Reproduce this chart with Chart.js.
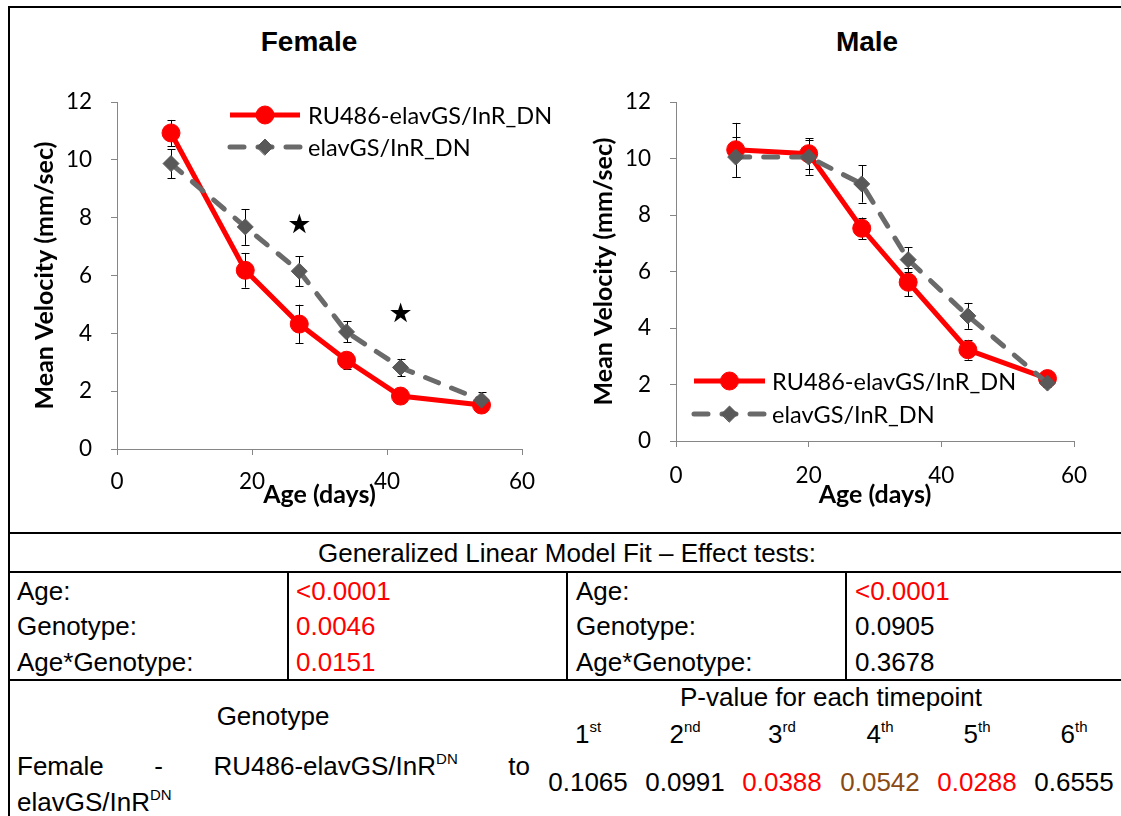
<!DOCTYPE html>
<html>
<head>
<meta charset="utf-8">
<script src="https://cdn.jsdelivr.net/npm/chart.js@4.4.0/dist/chart.umd.min.js"></script>
<style>
html,body{margin:0;padding:0;background:#fff;overflow:hidden;}
body{width:1121px;height:816px;position:relative;overflow:hidden;font-family:"Liberation Sans",Arial,sans-serif;color:#000;}
#frame{position:absolute;left:8px;top:6px;width:1113px;height:810px;border:2px solid #000;border-right:none;border-bottom:none;box-sizing:border-box;}
.hl{position:absolute;height:2px;background:#000;left:8px;width:1113px;}
.vl{position:absolute;width:2px;background:#000;}
.t{position:absolute;font-size:26px;white-space:nowrap;line-height:1;}
.c{transform:translate(-50%,-50%);}
.l{transform:translateY(-50%);}
.ctitle{position:absolute;font-family:"Liberation Sans",Arial,sans-serif;font-weight:bold;font-size:28px;line-height:1;transform:translate(-50%,-50%);}
canvas{position:absolute;}
sup.s{font-size:15px;vertical-align:0;position:relative;top:-11px;}
#justify{position:absolute;left:17px;top:750px;width:513px;font-size:26px;line-height:33px;text-align:justify;}
</style>
</head>
<body>
<div id="frame"></div>
<div class="ctitle" style="left:309px;top:42px;">Female</div>
<div class="ctitle" style="left:867px;top:42px;">Male</div>
<canvas id="female" width="556" height="523" style="left:10px;top:9px;"></canvas>
<canvas id="male" width="554" height="523" style="left:567px;top:9px;"></canvas>
<div id="table"></div>
<script>
// ---------------- data ----------------
const seriesLabels = ['RU486-elavGS/InR_DN', 'elavGS/InR_DN'];

const femaleDays = [8, 19, 27, 34, 42, 54];
const femaleRU = [10.93, 6.18, 4.32, 3.07, 1.83, 1.52];
const femaleRUErr = [0.45, 0.6, 0.67, 0.3, 0.1, 0.1];
const femaleCtl = [9.87, 7.68, 6.15, 4.05, 2.82, 1.69];
const femaleCtlErr = [0.5, 0.62, 0.52, 0.36, 0.3, 0.27];
const femaleStarDays = [27, 42];
const femaleStarY = [7.72, 4.63];

const maleDays = [9, 20, 28, 35, 44, 56];
const maleRU = [10.31, 10.17, 7.53, 5.62, 3.23, 2.21];
const maleRUErr = [0.95, 0.55, 0.38, 0.5, 0.35, 0.1];
const maleCtl = [10.05, 10.05, 9.1, 6.42, 4.43, 2.05];
const maleCtlErr = [0.7, 0.62, 0.66, 0.44, 0.46, 0.15];

const xMin = 0, xMax = 60, xStep = 20;
const yMin = 0, yMax = 12, yStep = 2;

const tableTitle = 'Generalized Linear Model Fit \u2013 Effect tests:';
const effectTerms = ['Age:', 'Genotype:', 'Age*Genotype:'];
const femaleEffectP = ['<0.0001', '0.0046', '0.0151'];
const maleEffectP = ['<0.0001', '0.0905', '0.3678'];

const timepointHeader = 'P-value for each timepoint';
const timepointNums = ['1', '2', '3', '4', '5', '6'];
const timepointSuffix = ['st', 'nd', 'rd', 'th', 'th', 'th'];
const timepointP = ['0.1065', '0.0991', '0.0388', '0.0542', '0.0288', '0.6555'];

// ---------------- helpers ----------------
function pts(xs, ys) { return xs.map((x, i) => ({x: x, y: ys[i]})); }
function pColor(p) {
  const v = parseFloat(String(p).replace('<', ''));
  if (v < 0.05) return '#ff0000';
  if (v < 0.06) return '#8a4a14';
  return '#000000';
}

const errorBarPlugin = {
  id: 'errorBars',
  beforeDatasetsDraw(chart) {
    const ctx = chart.ctx, xs = chart.scales.x, ys = chart.scales.y;
    ctx.save();
    ctx.strokeStyle = '#000';
    ctx.lineWidth = 1;
    chart.data.datasets.forEach(ds => {
      if (!ds.errors) return;
      ds.data.forEach((p, i) => {
        const e = ds.errors[i];
        const px = Math.round(xs.getPixelForValue(p.x)) + 0.5;
        const top = ys.getPixelForValue(p.y + e), bot = ys.getPixelForValue(p.y - e);
        ctx.beginPath();
        ctx.moveTo(px, top); ctx.lineTo(px, bot);
        ctx.moveTo(px - 4, Math.round(top) + 0.5); ctx.lineTo(px + 4, Math.round(top) + 0.5);
        ctx.moveTo(px - 4, Math.round(bot) + 0.5); ctx.lineTo(px + 4, Math.round(bot) + 0.5);
        ctx.stroke();
      });
    });
    ctx.restore();
  }
};

const starPlugin = {
  id: 'stars',
  afterDatasetsDraw(chart, args, opts) {
    if (!opts.days || !opts.days.length) return;
    const ctx = chart.ctx, xs = chart.scales.x, ys = chart.scales.y;
    ctx.save();
    ctx.fillStyle = '#000';
    ctx.font = '27px "DejaVu Sans"';
    ctx.textAlign = 'center';
    ctx.textBaseline = 'middle';
    opts.days.forEach((d, i) => {
      ctx.fillText('\u2605', xs.getPixelForValue(d), ys.getPixelForValue(opts.values[i]));
    });
    ctx.restore();
  }
};

const sampleLegendPlugin = {
  id: 'sampleLegend',
  afterDraw(chart, args, opts) {
    const ctx = chart.ctx;
    ctx.save();
    chart.data.datasets.forEach((ds, i) => {
      const y = opts.ys[i];
      ctx.strokeStyle = ds.borderColor;
      ctx.lineWidth = ds.borderWidth;
      ctx.lineCap = ds.borderCapStyle || 'butt';
      ctx.setLineDash(ds.borderDash || []);
      ctx.lineDashOffset = opts.dashOffset || 0;
      ctx.beginPath();
      ctx.moveTo(opts.x0, y); ctx.lineTo(opts.x1, y);
      ctx.stroke();
      ctx.setLineDash([]);
      ctx.fillStyle = ds.pointBackgroundColor;
      ctx.strokeStyle = ds.pointBorderColor;
      ctx.lineWidth = ds.pointBorderWidth;
      Chart.helpers.drawPoint(ctx, {pointStyle: ds.pointStyle, radius: ds.pointRadius, rotation: 0, borderWidth: ds.pointBorderWidth}, (opts.x0 + opts.x1) / 2, y);
      ctx.fillStyle = '#000';
      ctx.font = '23.5px Lato';
      ctx.textAlign = 'left';
      ctx.textBaseline = 'middle';
      ctx.fillText(ds.label, opts.textX, y + 1);
    });
    ctx.restore();
  }
};

function makeChart(id, days, ru, ruErr, ctl, ctlErr, stars, lay) {
  return new Chart(document.getElementById(id), {
    type: 'scatter',
    data: {
      datasets: [
        {
          label: seriesLabels[0], data: pts(days, ru), errors: ruErr, showLine: true,
          borderColor: '#ff0000', borderWidth: 5, pointStyle: 'circle', pointRadius: 9,
          pointBackgroundColor: '#ff0000', pointBorderColor: '#ff0000', pointBorderWidth: 1,
          order: 2
        },
        {
          label: seriesLabels[1], data: pts(days, ctl), errors: ctlErr, showLine: true,
          borderColor: '#6a6a6a', borderWidth: 5, borderDash: [14, 14], borderCapStyle: 'round',
          pointStyle: 'rectRot', pointRadius: 8,
          pointBackgroundColor: '#595959', pointBorderColor: '#595959', pointBorderWidth: 1,
          order: 1
        }
      ]
    },
    options: {
      responsive: false, animation: false, devicePixelRatio: 1,
      layout: {padding: lay.padding},
      plugins: {
        legend: {display: false}, tooltip: {enabled: false}, title: {display: false},
        stars: stars,
        sampleLegend: lay.legend
      },
      scales: {
        x: {
          type: 'linear', min: xMin, max: xMax,
          ticks: {stepSize: xStep, color: '#000', font: {family: 'Lato', size: 22.5}, padding: lay.xTickPad, maxRotation: 0},
          grid: {drawOnChartArea: false, drawTicks: true, tickLength: 6, color: '#868686'},
          border: {color: '#868686', width: 1},
          title: {display: true, text: 'Age (days)', color: '#000', font: {family: 'Lato', size: 25, weight: 'bold'}, padding: {top: 0, bottom: 4}},
          afterFit(s) { s.height = lay.xHeight; }
        },
        y: {
          min: yMin, max: yMax,
          ticks: {stepSize: yStep, color: '#000', font: {family: 'Lato', size: 22.5}, padding: 19},
          grid: {drawOnChartArea: false, drawTicks: true, tickLength: 6, color: '#868686'},
          border: {color: '#868686', width: 1},
          title: {display: true, text: 'Mean Velocity (mm/sec)', color: '#000', font: {family: 'Lato', size: 25, weight: 'bold'}, padding: {top: 4, bottom: 0}},
          afterFit(s) { s.width = lay.yWidth; }
        }
      }
    },
    plugins: [errorBarPlugin, starPlugin, sampleLegendPlugin]
  });
}

// ---------------- table (HTML text) ----------------
function addDiv(html, cls, style) {
  const d = document.createElement('div');
  d.className = cls; d.innerHTML = html; d.setAttribute('style', style);
  document.getElementById('table').appendChild(d);
  return d;
}
function esc(s) { return s.replace(/&/g, '&amp;').replace(/</g, '&lt;'); }

function buildTable() {
  addDiv('', 'hl', 'top:532px;');
  addDiv('', 'hl', 'top:571px;');
  addDiv('', 'hl', 'top:679px;');
  addDiv('', 'vl', 'left:287px;top:572px;height:108px;');
  addDiv('', 'vl', 'left:566px;top:572px;height:108px;');
  addDiv('', 'vl', 'left:845px;top:572px;height:108px;');
  addDiv(esc(tableTitle), 't c', 'left:567px;top:553px;');
  const rowY = [591, 626, 662];
  effectTerms.forEach((term, i) => {
    addDiv(esc(term), 't l', 'left:17px;top:' + rowY[i] + 'px;');
    addDiv(esc(femaleEffectP[i]), 't l', 'left:296px;top:' + rowY[i] + 'px;color:' + pColor(femaleEffectP[i]) + ';');
    addDiv(esc(term), 't l', 'left:576px;top:' + rowY[i] + 'px;');
    addDiv(esc(maleEffectP[i]), 't l', 'left:855px;top:' + rowY[i] + 'px;color:' + pColor(maleEffectP[i]) + ';');
  });
  addDiv('Genotype', 't c', 'left:273px;top:716px;');
  addDiv(esc(timepointHeader), 't c', 'left:831px;top:697px;');
  const colX = [588, 685, 782, 880, 977, 1074];
  timepointNums.forEach((n, i) => {
    addDiv(n + '<sup class="s">' + timepointSuffix[i] + '</sup>', 't c', 'left:' + colX[i] + 'px;top:734px;');
    addDiv(timepointP[i], 't c', 'left:' + colX[i] + 'px;top:782px;color:' + pColor(timepointP[i]) + ';');
  });
  const j = document.createElement('div');
  j.id = 'justify';
  j.innerHTML = 'Female - RU486-elavGS/InR<sup class="s">DN</sup> to elavGS/InR<sup class="s">DN</sup>';
  document.getElementById('table').appendChild(j);
}

buildTable();

function init() {
  makeChart('female', femaleDays, femaleRU, femaleRUErr, femaleCtl, femaleCtlErr,
    {days: femaleStarDays, values: femaleStarY},
    {padding: {top: 93, left: 16, right: 44, bottom: 18}, yWidth: 91, xHeight: 65, xTickPad: 13,
     legend: {x0: 220, x1: 290, textX: 298, ys: [106, 138]}});
  makeChart('male', maleDays, maleRU, maleRUErr, maleCtl, maleCtlErr,
    {days: [], values: []},
    {padding: {top: 93, left: 18, right: 47, bottom: 18}, yWidth: 91, xHeight: 73, xTickPad: 15,
     legend: {x0: 127, x1: 198, textX: 205, ys: [372, 405]}});
}
if (document.fonts && document.fonts.load) {
  Promise.all([document.fonts.load('21px Lato'), document.fonts.load('bold 23px Lato'), document.fonts.load('25px "DejaVu Sans"')])
    .then(init, init);
} else { init(); }
</script>
</body>
</html>
